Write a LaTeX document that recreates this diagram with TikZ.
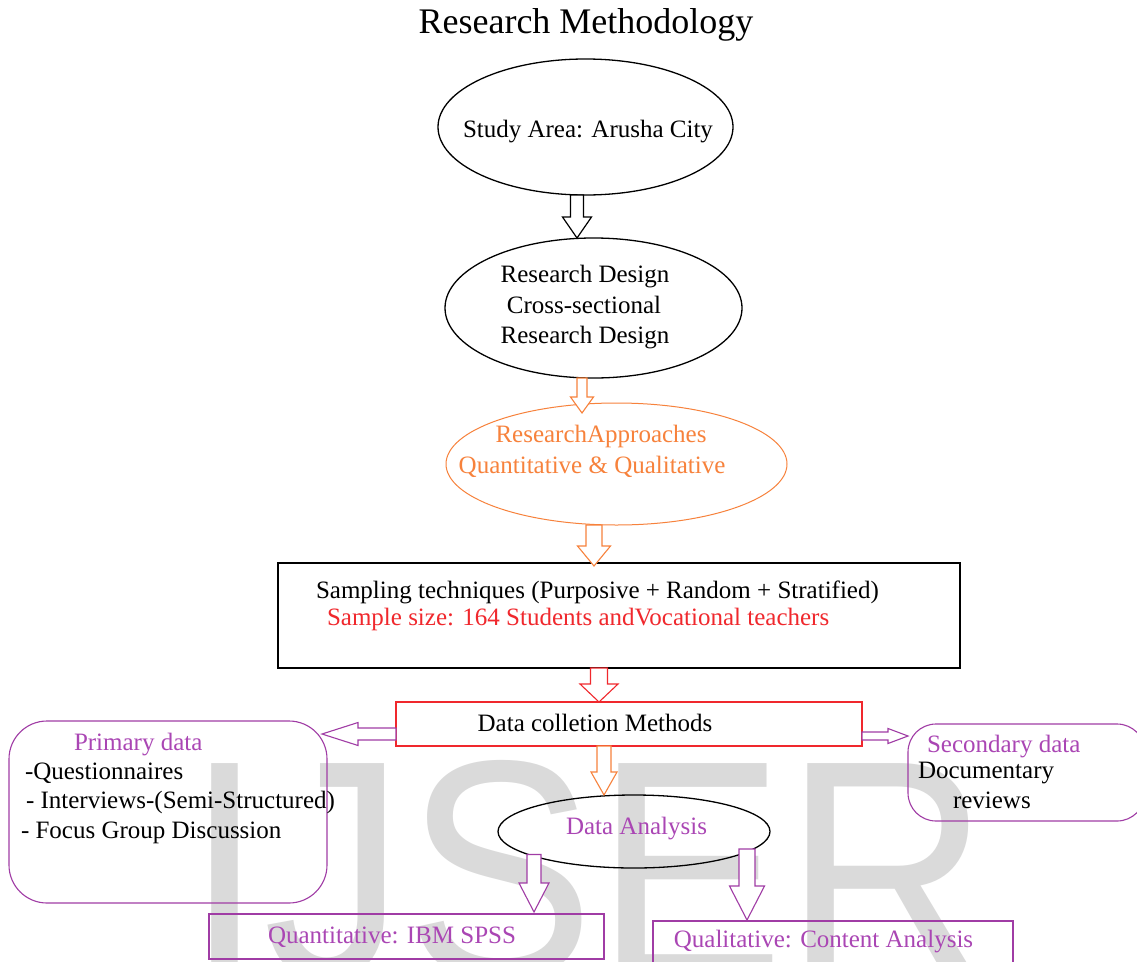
\documentclass[tikz,border=0pt]{standalone}
\usepackage{fontspec}
\setmainfont{Liberation Serif}
\newfontfamily\wmfont{Liberation Sans}
\usetikzlibrary{shapes.geometric,calc}
\definecolor{myorange}{RGB}{247,130,60}
\definecolor{myred}{RGB}{240,40,45}
\definecolor{mypurple}{RGB}{160,60,165}
\definecolor{txtpurple}{RGB}{170,70,180}
\definecolor{wmgray}{RGB}{218,218,218}
\newcommand\fs{\fontsize{25}{30}\selectfont}
% block arrows: #1 style, #2 from, #3 to, #4 shaft half width, #5 head half width, #6 head length
\newcommand\blkdown[6]{\draw[#1] let \p1=(#2), \p2=(#3) in
  (\x1-#4pt,\y1) -- (\x1+#4pt,\y1) -- (\x1+#4pt,\y2+#6pt) -- (\x1+#5pt,\y2+#6pt)
  -- (\x1,\y2) -- (\x1-#5pt,\y2+#6pt) -- (\x1-#4pt,\y2+#6pt) -- cycle;}
\newcommand\blkleft[6]{\draw[#1] let \p1=(#2), \p2=(#3) in
  (\x1,\y1+#4pt) -- (\x1,\y1-#4pt) -- (\x2+#6pt,\y1-#4pt) -- (\x2+#6pt,\y1-#5pt)
  -- (\x2,\y1) -- (\x2+#6pt,\y1+#5pt) -- (\x2+#6pt,\y1+#4pt) -- cycle;}
\newcommand\blkright[6]{\draw[#1] let \p1=(#2), \p2=(#3) in
  (\x1,\y1+#4pt) -- (\x1,\y1-#4pt) -- (\x2-#6pt,\y1-#4pt) -- (\x2-#6pt,\y1-#5pt)
  -- (\x2,\y1) -- (\x2-#6pt,\y1+#5pt) -- (\x2-#6pt,\y1+#4pt) -- cycle;}
\tikzset{
  every node/.style={inner sep=0pt, outer sep=0pt},
  txt/.style={font=\fs, anchor=base},
  txtw/.style={font=\fs, anchor=base west},
  oval/.style={ellipse, draw, inner sep=0pt},
  boxn/.style={rectangle, draw, inner sep=0pt},
  blk/.style={draw=black, line width=1.2pt, fill=white, line join=miter},
  org/.style={draw=myorange, line width=1.1pt, fill=white, line join=miter},
  rdarrow/.style={draw=myred, line width=1.1pt, fill=white, line join=miter},
  prp/.style={draw=mypurple, line width=1.1pt, fill=white, line join=miter},
}
\begin{document}
\begin{tikzpicture}[x=1pt,y=-1pt]
\useasboundingbox (0,0) rectangle (1137,961);
\clip (0,0) rectangle (1137,961);
\fill[white] (0,0) rectangle (1137,961);
% watermark
\node[anchor=base west, text=wmgray] (wmk) at (185,978) {\scalebox{1}[1.1]{\wmfont\fontsize{284}{284}\selectfont IJSER}};
% title
\node[font=\fontsize{36}{40}\selectfont, anchor=base] (title) at (586,33) {Research Methodology};
% study area
\node[oval, line width=1.3pt, minimum width=295pt, minimum height=136pt] (e1) at (585.5,127) {};
\node[txt] (t1) at (588,137) {Study Area: Arusha City};
% research design
\node[oval, line width=1.3pt, minimum width=297pt, minimum height=140pt] (e2) at (593.5,308) {};
\node[txt] (t2a) at (585,282) {Research Design};
\node[txt] (t2b) at (584,313) {Cross-sectional};
\node[txt] (t2c) at (585,343) {Research Design};
% approaches
\node[oval, draw=myorange, line width=1pt, minimum width=341pt, minimum height=122pt] (e3) at (616.5,464) {};
\node[txt, text=myorange] (t3a) at (601,442) {ResearchApproaches};
\node[txt, text=myorange] (t3b) at (592,473) {Quantitative \& Qualitative};
% sampling
\node[boxn, line width=1.3pt, minimum width=682pt, minimum height=105pt] (samp) at (619,615.5) {};
\node[txtw] (ts1) at (316,598) {Sampling techniques (Purposive + Random + Stratified)};
\node[txtw, text=myred] (ts2) at (327,625) {Sample size: 164 Students andVocational teachers};
% data collection
\node[boxn, draw=myred, line width=1.2pt, minimum width=466pt, minimum height=44pt] (dcm) at (629,724) {};
\node[txt] (tdcm) at (595,731) {Data colletion Methods};
% primary data
\node[boxn, draw=mypurple, line width=1.1pt, rounded corners=38pt, minimum width=318pt, minimum height=182pt] (prim) at (168,812) {};
\node[txtw, text=txtpurple] (tp0) at (74,750) {Primary data};
\node[txtw] (tp1) at (25,779) {-Questionnaires};
\node[txtw] (tp2) at (26,808) {- Interviews-(Semi-Structured)};
\node[txtw] (tp3) at (21,838) {- Focus Group Discussion};
% secondary data
\node[boxn, draw=mypurple, line width=1.1pt, rounded corners=28pt, minimum width=237pt, minimum height=97pt] (sec) at (1026.5,772.5) {};
\node[txtw, text=txtpurple] (tsc0) at (927,752) {Secondary data};
\node[txtw] (tsc1) at (918,778) {Documentary};
\node[txtw] (tsc2) at (953,808) {reviews};
% data analysis
\node[oval, line width=1.3pt, minimum width=272pt, minimum height=73pt] (da) at (634,831.5) {};
\node[txt, text=txtpurple] (tda) at (636.5,834) {Data Analysis};
% outputs
\node[boxn, draw=mypurple, line width=1.1pt, minimum width=395pt, minimum height=45pt] (qn) at (406.5,936.5) {};
\node[txt, text=txtpurple] (tqn) at (392,943) {Quantitative: IBM SPSS};
\node[boxn, draw=mypurple, line width=1.1pt, minimum width=360pt, minimum height=54pt] (ql) at (833,948) {};
\node[txt, text=txtpurple] (tql) at (823.5,947) {Qualitative: Content Analysis};
% block arrows
\blkdown{blk}{[xshift=-8.5pt]e1.south}{e2.north}{6.5}{14.5}{21}
\blkdown{org}{[xshift=-11.5pt]e2.south}{[yshift=-10pt]e3.north}{5}{11.5}{16}
\blkdown{org}{[xshift=-22.5pt]e3.south}{[yshift=-3pt]samp.north}{8}{16.5}{20}
\blkdown{rdarrow}{[xshift=-20pt]samp.south}{dcm.north}{8.5}{19}{18}
\blkleft{prp}{[yshift=-10pt]dcm.west}{[xshift=-5pt]prim.east}{6}{11.5}{36}
\blkright{prp}{[yshift=-12pt]dcm.east}{sec.west}{4}{7.5}{20}
\blkdown{org}{[xshift=-25pt]dcm.south}{da.north}{7}{13}{23}
\blkdown{prp}{[xshift=-100pt,yshift=-23pt]da.center}{[yshift=2pt]qn.north}{7}{15}{29}
\blkdown{prp}{[xshift=113pt,yshift=-17.5pt]da.center}{[yshift=1pt]ql.north}{8}{17.5}{34}
\end{tikzpicture}
\end{document}
